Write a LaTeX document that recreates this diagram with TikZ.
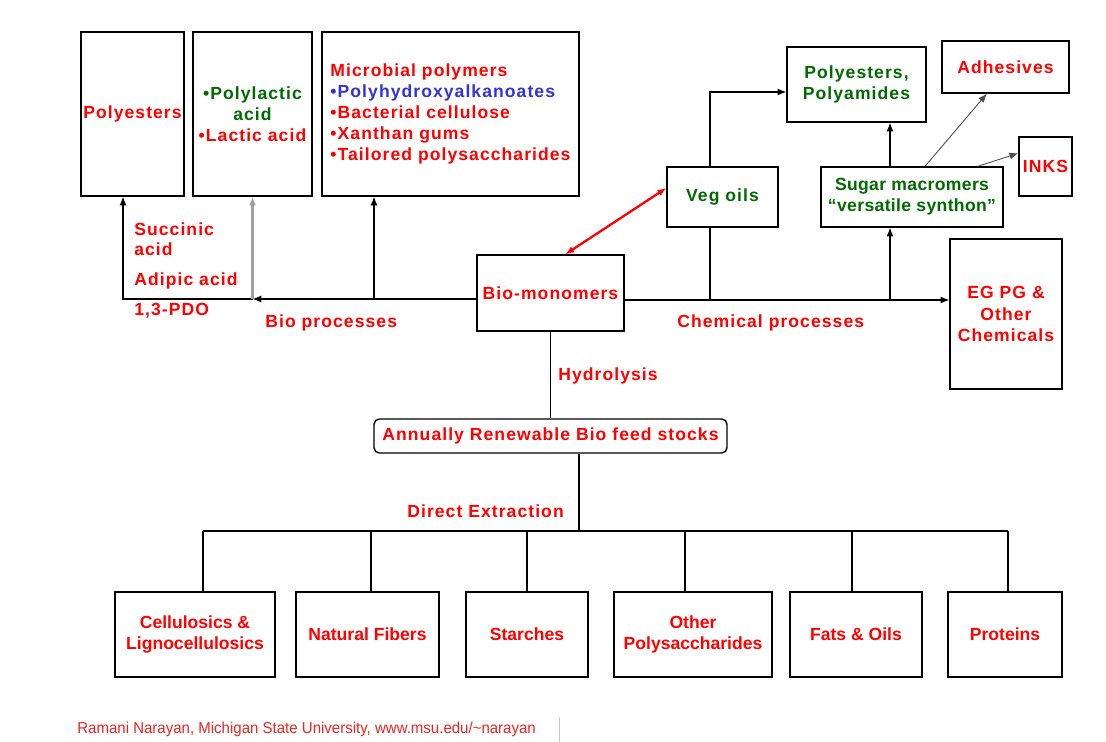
\documentclass[tikz,border=0pt]{standalone}
\usepackage{fontspec}
\setmainfont{Liberation Sans}[LetterSpace=6]
\newfontfamily\narrowfont{Liberation Sans}
\usetikzlibrary{arrows.meta}
\definecolor{txtred}{RGB}{255,0,0}
\definecolor{txtgreen}{RGB}{0,105,0}
\definecolor{txtblue}{RGB}{50,50,215}
\definecolor{footred}{RGB}{235,35,35}

\begin{document}
\begin{tikzpicture}[x=0.02cm, y=-0.02cm,
    >={Latex[length=5pt,width=4pt]},
    box/.style={draw, line width=0.8pt, align=center, inner sep=1pt,
      font=\fontsize{10}{12}\selectfont\bfseries},
    srcbox/.style={box, minimum height=1.7cm, text=txtred,
      font=\narrowfont\fontsize{10}{11.5}\selectfont\bfseries},
    lbl/.style={anchor=west, inner sep=0pt, align=left, text=txtred,
      font=\fontsize{10}{11.5}\selectfont\bfseries},
    link/.style={line width=0.6pt}]

    \def\busY{531}
    \useasboundingbox (0,0) rectangle (1106,742);

    % products of bio processes
    \node[box, minimum width=2.06cm, minimum height=3.28cm, text=txtred] (polyest) at (132.5,114) {Polyesters};
    \node[box, minimum width=2.38cm, minimum height=3.28cm] (pla) at (252.5,114)
        {\textcolor{txtgreen}{•Polylactic}\\ \textcolor{txtgreen}{acid}\\ \textcolor{txtred}{•Lactic acid}};
    \node[box, minimum width=5.14cm, minimum height=3.28cm, align=left, text=txtred] (microb) at (450.5,114)
        {Microbial polymers\\ \textcolor{txtblue}{•Polyhydroxyalkanoates}\\ •Bacterial cellulose\\ •Xanthan gums\\ •Tailored polysaccharides};

    % products of chemical processes
    \node[box, minimum width=2.78cm, minimum height=1.5cm, text=txtgreen] (polyam) at (856.5,84.5) {Polyesters,\\ Polyamides};
    \node[box, minimum width=2.54cm, minimum height=1.04cm, text=txtred] (adhes) at (1005.5,67) {Adhesives};
    \node[box, minimum width=1.06cm, minimum height=1.18cm, text=txtred] (inks) at (1045.5,166.5) {INKS};
    \node[box, minimum width=2.22cm, minimum height=1.2cm, text=txtgreen] (vegoil) at (722.5,197) {Veg oils};
    \node[box, minimum width=3.64cm, minimum height=1.2cm, text=txtgreen,
        font=\fontsize{10}{12}\selectfont\bfseries\addfontfeature{LetterSpace=2}] (sugar) at (912,197)
        {Sugar macromers\\ “versatile synthon”};
    \node[box, minimum width=2.24cm, minimum height=3cm, text=txtred] (egpg) at (1006,314) {EG PG \&\\ Other\\ Chemicals};

    % centre
    \node[box, minimum width=2.94cm, minimum height=1.52cm, text=txtred] (biomono) at (550.5,293) {Bio-monomers};
    \node[box, rounded corners=3pt, minimum width=7.06cm, minimum height=0.68cm, text=txtred] (feed) at (550.5,436)
        {Annually Renewable Bio feed stocks};

    % feed stocks
    \node[srcbox, minimum width=3.2cm] (cell) at (195,634.5) {Cellulosics \&\\ Lignocellulosics};
    \node[srcbox, minimum width=2.86cm] (fibers) at (367.5,634.5) {Natural Fibers};
    \node[srcbox, minimum width=2.44cm] (starch) at (527,634.5) {Starches};
    \node[srcbox, minimum width=3.16cm] (otherps) at (693,634.5) {Other\\ Polysaccharides};
    \node[srcbox, minimum width=2.64cm] (fats) at (856,634.5) {Fats \& Oils};
    \node[srcbox, minimum width=2.28cm] (prot) at (1005,634.5) {Proteins};

    % bus below the feed stocks
    \coordinate (b1) at (203,\busY);
    \coordinate (b2) at (371,\busY);
    \coordinate (b3) at (527,\busY);
    \coordinate (b4) at (685,\busY);
    \coordinate (b5) at (852,\busY);
    \coordinate (b6) at (1008,\busY);
    \coordinate (dx) at (579,\busY);
    \draw[link] (b1) -- (b6);
    \foreach \b/\n in {b1/cell, b2/fibers, b3/starch, b4/otherps, b5/fats, b6/prot}
        \draw[link] (\b) -- (\b |- \n.north);
    \draw[link] (dx |- feed.south) -- (dx);
    \draw[link] (biomono.south) -- (feed.north);

    % bio processes
    \coordinate (hl) at (123,299);
    \coordinate (hm) at (374,299);
    \draw[link,->] (biomono.west |- hl) -- (pla.south |- hl);
    \draw[link,->] (pla.south |- hl) -- (hl) -- (hl |- polyest.south);
    \draw[->, gray!75, line width=1.6pt] (pla.south |- hl) -- (pla.south);
    \draw[link,->] (hm) -- (hm |- microb.south);

    % chemical processes
    \coordinate (hr) at (710,300);
    \coordinate (hs) at (890,300);
    \coordinate (vp) at (710,92);
    \draw[link,->] (biomono.east |- hr) -- (egpg.west |- hr);
    \draw[link] (hr) -- (hr |- vegoil.south);
    \draw[link,->] (hs) -- (hs |- sugar.south);
    \draw[link,->] (vp |- vegoil.north) -- (vp) -- (vp -| polyam.west);
    \draw[link,->] (hs |- sugar.north) -- (hs |- polyam.south);
    \draw[->, gray!60!black, line width=0.5pt] (sugar.67) -- (adhes.235);
    \draw[->, gray!60!black, line width=0.5pt] (sugar.25) -- (inks.154);
    \draw[<->, red, line width=1.3pt] (vegoil.171) -- (biomono.69);

    % labels
    \node[lbl] (succ) at (134,239) {Succinic\\ acid};
    \node[lbl] (adip) at (134,281) {Adipic acid};
    \node[lbl] (pdo) at (134,311) {1,3-PDO};
    \node[lbl] (biop) at (265,323) {Bio processes};
    \node[lbl] (chemp) at (677,323) {Chemical processes};
    \node[lbl] (hydro) at (558,376) {Hydrolysis};
    \node[lbl] (direct) at (407,511) {Direct Extraction};

    % footer
    \node[anchor=west, inner sep=0pt, text=footred, font=\narrowfont\fontsize{9}{11}\selectfont] (foot) at (77,729)
        {\scalebox{0.95}[1]{Ramani Narayan, Michigan State University, www.msu.edu/\textasciitilde narayan}};
    \draw[gray!45, line width=0.4pt] (559,717) -- (559,742);
\end{tikzpicture}
\end{document}
